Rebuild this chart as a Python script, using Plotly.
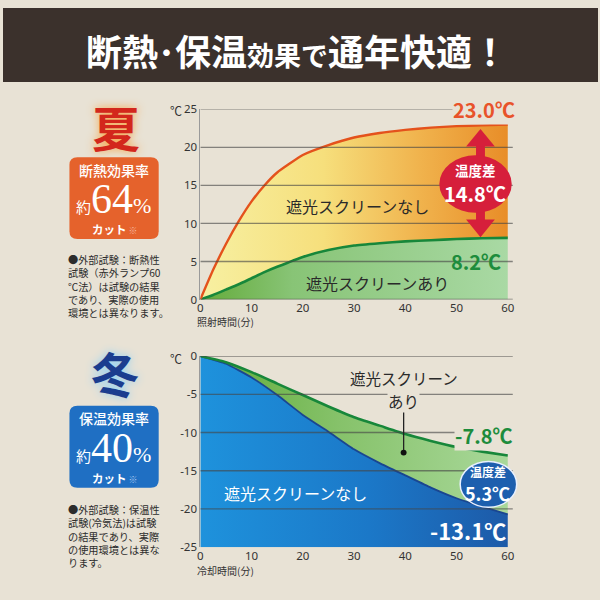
import plotly.graph_objects as go

# ---------------- data ----------------
minutes_summer = [0, 2.5, 5, 7.5, 10, 12.5, 15, 20, 25, 30, 35, 40, 45, 50, 55, 60]
summer_no_screen = [0, 3.9, 7.3, 10.3, 12.9, 15.0, 16.7, 19.0, 20.3, 21.3, 21.9, 22.3, 22.6, 22.8, 22.9, 23.0]
summer_screen = [0, 0.6, 1.3, 2.0, 2.8, 3.6, 4.3, 5.6, 6.5, 7.1, 7.4, 7.65, 7.8, 7.95, 8.05, 8.1]

minutes_winter = [0, 5, 10, 15, 20, 25, 30, 35, 40, 45, 50, 55, 60]
winter_no_screen = [0, -1.0, -2.8, -5.1, -7.7, -9.9, -12.2, -14.0, -15.6, -17.2, -18.6, -19.7, -20.7]
winter_screen = [0, -0.8, -2.1, -3.6, -5.1, -6.6, -8.0, -9.1, -10.2, -11.1, -11.9, -12.5, -13.0]

x_ticks = [0, 10, 20, 30, 40, 50, 60]
summer_y_ticks = [0, 5, 10, 15, 20, 25]
winter_y_ticks = [-25, -20, -15, -10, -5, 0]

summer_end_no, summer_end_screen, summer_diff = 23.0, 8.2, 14.8
winter_end_no, winter_end_screen, winter_diff = -13.1, -7.8, 5.3

JP = "Noto Sans CJK JP"
SERIF = "Liberation Serif"
BG = "#e8e2d5"


def P(x, y):
    return x / 600, 1 - y / 600


fig = go.Figure()

# ---------------- summer chart ----------------
fig.add_trace(go.Scatter(
    x=minutes_summer, y=summer_screen, mode="lines", line=dict(width=0),
    fill="tozeroy", xaxis="x", yaxis="y", hoverinfo="skip",
    fillgradient=dict(type="horizontal",
                      colorscale=[[0, "#64ab3a"], [0.3, "#88c476"], [1, "#a9d9a4"]])))
fig.add_trace(go.Scatter(
    x=minutes_summer, y=summer_no_screen, mode="lines", line=dict(width=0),
    fill="tonexty", xaxis="x", yaxis="y", hoverinfo="skip",
    fillgradient=dict(type="horizontal",
                      colorscale=[[0, "#f7f0a2"], [0.4, "#f6df7c"], [0.72, "#f0b24c"], [1, "#e88d28"]])))
fig.add_trace(go.Scatter(x=minutes_summer, y=summer_screen, mode="lines",
                         line=dict(color="#17873a", width=2.6, shape="spline", smoothing=0.4),
                         xaxis="x", yaxis="y"))
fig.add_trace(go.Scatter(x=minutes_summer, y=summer_no_screen, mode="lines",
                         line=dict(color="#e4521c", width=2.4, shape="spline", smoothing=0.4),
                         xaxis="x", yaxis="y"))

# ---------------- winter chart ----------------
fig.add_trace(go.Scatter(x=minutes_winter, y=[winter_y_ticks[0]] * len(minutes_winter),
                         mode="lines", line=dict(width=0), xaxis="x2", yaxis="y2", hoverinfo="skip"))
fig.add_trace(go.Scatter(
    x=minutes_winter, y=winter_no_screen, mode="lines", line=dict(width=0),
    fill="tonexty", xaxis="x2", yaxis="y2", hoverinfo="skip",
    fillgradient=dict(type="horizontal",
                      colorscale=[[0, "#1e92dc"], [0.55, "#1b78c8"], [1, "#1d5aa8"]])))
fig.add_trace(go.Scatter(
    x=minutes_winter, y=winter_screen, mode="lines", line=dict(width=0),
    fill="tonexty", xaxis="x2", yaxis="y2", hoverinfo="skip",
    fillgradient=dict(type="horizontal",
                      colorscale=[[0, "#5fab38"], [0.45, "#86c26a"], [1, "#a9d89a"]])))
fig.add_trace(go.Scatter(x=minutes_winter, y=winter_no_screen, mode="lines",
                         line=dict(color="#1a4690", width=1.8, shape="spline", smoothing=0.4),
                         xaxis="x2", yaxis="y2"))
fig.add_trace(go.Scatter(x=minutes_winter, y=winter_screen, mode="lines",
                         line=dict(color="#17873a", width=2.6, shape="spline", smoothing=0.4),
                         xaxis="x2", yaxis="y2"))

# ---------------- shapes ----------------
shapes = []
shapes.append(dict(type="rect", xref="paper", yref="paper", x0=0, x1=1, y0=P(0, 76)[1], y1=1,
                   fillcolor="#3b312c", line=dict(width=0), layer="below"))

grid_col = "rgba(70,70,70,0.62)"
for v in summer_y_ticks:
    shapes.append(dict(type="line", xref="x", yref="y", x0=0, x1=61, y0=v, y1=v,
                       line=dict(color=grid_col, width=1.3), layer="above"))
for v in winter_y_ticks[1:]:
    shapes.append(dict(type="line", xref="x2", yref="y2", x0=0, x1=61, y0=v, y1=v,
                       line=dict(color=grid_col, width=1.3), layer="above"))


def rrect(x0, y0, x1, y1, r, color):
    pts = lambda x, y: "%.5f,%.5f" % P(x, y)
    path = ("M " + pts(x0 + r, y0) + " L " + pts(x1 - r, y0) + " Q " + pts(x1, y0) + " " + pts(x1, y0 + r)
            + " L " + pts(x1, y1 - r) + " Q " + pts(x1, y1) + " " + pts(x1 - r, y1)
            + " L " + pts(x0 + r, y1) + " Q " + pts(x0, y1) + " " + pts(x0, y1 - r)
            + " L " + pts(x0, y0 + r) + " Q " + pts(x0, y0) + " " + pts(x0 + r, y0) + " Z")
    return dict(type="path", xref="paper", yref="paper", path=path, fillcolor=color,
                line=dict(width=0), layer="below")


shapes.append(rrect(67, 153, 157, 237, 8, "#e5622c"))
shapes.append(rrect(67, 408, 157, 492, 8, "#1f6fc3"))


def poly(points, color):
    s = "M " + " L ".join("%.5f,%.5f" % P(x, y) for x, y in points) + " Z"
    return dict(type="path", xref="paper", yref="paper", path=s, fillcolor=color,
                line=dict(width=0), layer="above")


RED = "#d61f3b"
shapes.append(poly([(477, 135), (486, 135), (486, 224), (477, 224)], RED))
shapes.append(poly([(481.5, 124), (467, 142), (496, 142)], RED))
shapes.append(poly([(481.5, 235), (467, 217), (496, 217)], RED))
ex0, ey0 = P(440, 151)
ex1, ey1 = P(513, 210)
shapes.append(dict(type="circle", xref="paper", yref="paper", x0=ex0, x1=ex1, y0=ey1, y1=ey0,
                   fillcolor=RED, line=dict(width=0), layer="above"))
bx0, by0 = P(461, 465)
bx1, by1 = P(518, 512)
shapes.append(dict(type="circle", xref="paper", yref="paper", x0=bx0, x1=bx1, y0=by1, y1=by0,
                   fillcolor="#1d5fae", line=dict(width=1.5, color="#e8f0ff"), layer="above"))
lx, ly0 = P(404, 413)
_, ly1 = P(404, 456)
shapes.append(dict(type="line", xref="paper", yref="paper", x0=lx, x1=lx, y0=ly0, y1=ly1,
                   line=dict(color="#222", width=1.3), layer="above"))
dx0, dy0 = P(401, 453)
dx1, dy1 = P(407, 459)
shapes.append(dict(type="circle", xref="paper", yref="paper", x0=dx0, x1=dx1, y0=dy1, y1=dy0,
                   fillcolor="#111", line=dict(width=0), layer="above"))

# ---------------- annotations ----------------
ann = []


def note(text, x, y, size, color, weight=400, family=JP, xanchor="center", yanchor="middle",
         align="center", bg=None, shadow=None):
    xx, yy = P(x, y)
    f = dict(family=family, size=size, color=color, weight=weight)
    if shadow:
        f["shadow"] = shadow
    d = dict(text=text, x=xx, y=yy, xref="paper", yref="paper", showarrow=False,
             xanchor=xanchor, yanchor=yanchor, align=align, font=f, borderpad=0)
    if bg:
        d["bgcolor"] = bg
    ann.append(d)


note("断熱<span style='font-size:34px'>･</span>保温<span style='font-size:27px'>効果で</span>通年快適！",
     296, 43, 36, "white", weight=700)

# left panels
note("夏", 114, 121, 48, "#d3271c", weight=700, shadow="0px 0px 10px #f6a447")
note("断熱効果率", 112, 166, 14, "white", weight=500)
note("<span style='font-size:15px;font-family:Noto Sans CJK JP'>約</span>64<span style='font-size:22px'>%</span>",
     111, 196, 42, "white", family=SERIF)
note("カット<span style='font-size:9px;color:#f6b8a0'> ※</span>", 113, 227, 11.5, "white", weight=700)
note("●外部試験：断熱性<br>試験（赤外ランプ60<br>℃法）は試験の結果<br>であり、実際の使用<br>環境とは異なります。",
     65, 249, 10.2, "#2c2c2c", xanchor="left", yanchor="top", align="left")

note("冬", 113, 373, 48, "#1b3d8f", weight=700, shadow="0px 0px 10px #8fd0f5")
note("保温効果率", 112, 421, 14, "white", weight=500)
note("<span style='font-size:15px;font-family:Noto Sans CJK JP'>約</span>40<span style='font-size:22px'>%</span>",
     111, 451, 42, "white", family=SERIF)
note("カット<span style='font-size:9px;color:#a8c8f0'> ※</span>", 113, 482, 11.5, "white", weight=700)
note("●外部試験：保温性<br>試験(冷気法)は試験<br>の結果であり、実際<br>の使用環境とは異な<br>ります。",
     65, 506, 10.2, "#2c2c2c", xanchor="left", yanchor="top", align="left")

# axis units/titles
note("℃", 174, 105, 12, "#333")
note("℃", 174, 359, 12, "#333")
note("照射時間(分)", 195, 322, 10, "#333", xanchor="left")
note("冷却時間(分)", 195, 577, 10, "#333", xanchor="left")

# summer chart labels
note(f"{summer_end_no:.1f}℃", 485, 104, 20, "#e8532a", weight=700, bg=BG)
note(f"{summer_end_screen:.1f}℃", 477, 260, 20, "#1d8c3c", weight=700)
note("温度差", 476, 166, 13.5, "white", weight=700)
note(f"{summer_diff:.1f}℃", 476, 190, 20, "white", weight=700)
note("遮光スクリーンなし", 357, 203, 16, "#2a2a2a")
note("遮光スクリーンあり", 378, 282, 16, "#2a2a2a")

# winter chart labels
note("遮光スクリーン", 404, 379, 15.5, "#2a2a2a")
note("あり", 404, 403, 15.5, "#2a2a2a", bg=BG)
note(f"{winter_end_screen:.1f}℃", 485, 438, 20, "#1d8c3c", weight=700, bg=BG)
note("温度差", 489, 475, 12, "white", weight=700)
note(f"{winter_diff:.1f}℃", 489, 497, 18, "white", weight=700)
note(f"{winter_end_no:.1f}℃", 469, 535, 22, "white", weight=700)
note("遮光スクリーンなし", 295, 497, 16, "white")

# ---------------- layout ----------------
xdom = [199 / 600, (199 + 61 * 310 / 60) / 600]
tickfont = dict(family="Noto Sans", size=11.5, color="#333")
fig.update_layout(
    width=600, height=600, autosize=False,
    margin=dict(l=0, r=0, t=0, b=0),
    paper_bgcolor=BG, plot_bgcolor="rgba(0,0,0,0)",
    showlegend=False,
    shapes=shapes, annotations=ann,
    xaxis=dict(domain=xdom, range=[0, 61], anchor="y", tickvals=x_ticks,
               ticktext=[str(v) for v in x_ticks], showgrid=False, zeroline=False,
               tickfont=tickfont),
    yaxis=dict(domain=[1 - 299 / 600, 1 - 104 / 600], range=[0, 25], anchor="x",
               tickvals=summer_y_ticks, ticktext=[str(v) for v in summer_y_ticks],
               showgrid=False, zeroline=False, showline=True, linecolor="#9a9a9a", linewidth=1,
               tickfont=tickfont),
    xaxis2=dict(domain=xdom, range=[0, 61], anchor="y2", tickvals=x_ticks,
                ticktext=[str(v) for v in x_ticks], showgrid=False, zeroline=False,
                tickfont=tickfont),
    yaxis2=dict(domain=[1 - 553 / 600, 1 - 357 / 600], range=[-25, 0], anchor="x2",
                tickvals=winter_y_ticks, ticktext=[str(v) for v in winter_y_ticks],
                showgrid=False, zeroline=False, showline=True, linecolor="#9a9a9a", linewidth=1,
                tickfont=tickfont),
)

fig.write_html("out.html")
